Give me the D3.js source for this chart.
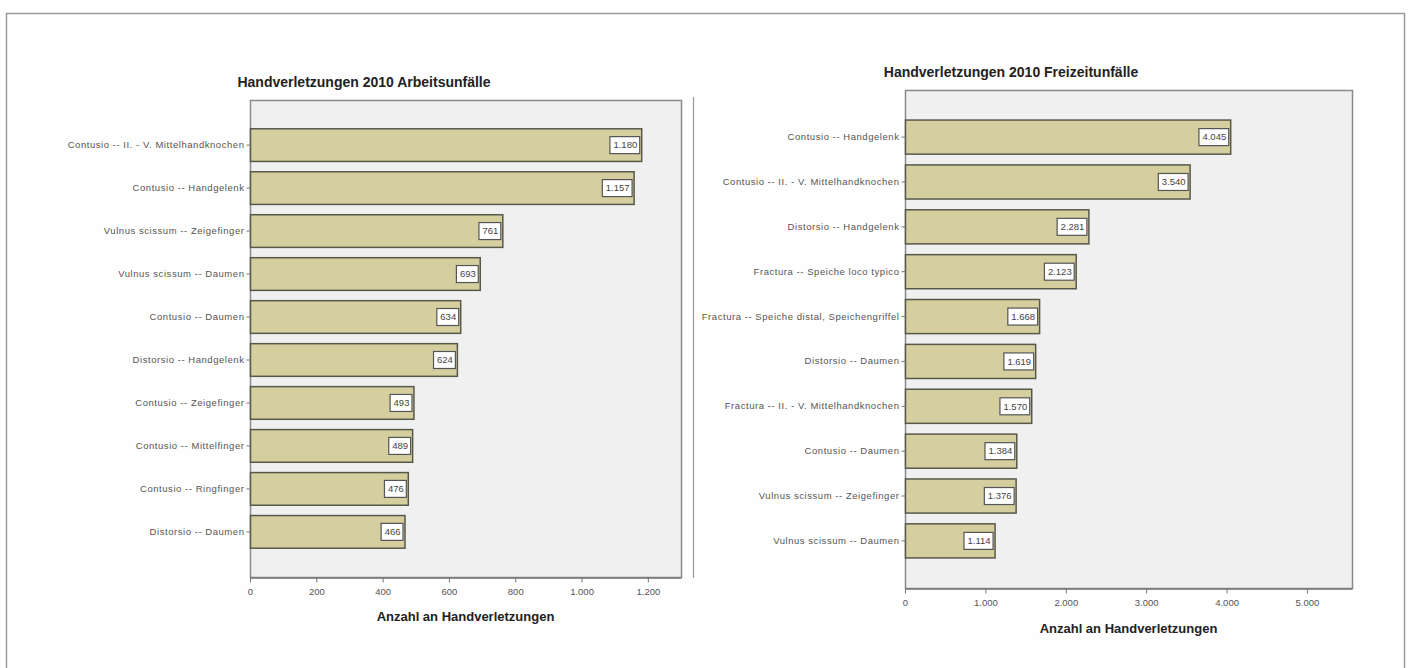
<!DOCTYPE html>
<html>
<head>
<meta charset="utf-8">
<script src="https://cdn.jsdelivr.net/npm/d3@7"></script>
<style>
  body { margin: 0; background: #fff; }
  svg { display: block; font-family: "Liberation Sans", Arial, sans-serif; }
  .c-axis path, .c-axis line { stroke: #777; }
  .c-axis text { fill: #555; }
</style>
</head>
<body>
<div id="chart"></div>
<script>
// Arbeitsunfälle (left chart)
const workCategories = [
  'Contusio -- II. - V. Mittelhandknochen',
  'Contusio -- Handgelenk',
  'Vulnus scissum -- Zeigefinger',
  'Vulnus scissum -- Daumen',
  'Contusio -- Daumen',
  'Distorsio -- Handgelenk',
  'Contusio -- Zeigefinger',
  'Contusio -- Mittelfinger',
  'Contusio -- Ringfinger',
  'Distorsio -- Daumen'
];
const workValues = [1180, 1157, 761, 693, 634, 624, 493, 489, 476, 466];
const workTicks = [0, 200, 400, 600, 800, 1000, 1200];

// Freizeitunfälle (right chart)
const leisureCategories = [
  'Contusio -- Handgelenk',
  'Contusio -- II. - V. Mittelhandknochen',
  'Distorsio -- Handgelenk',
  'Fractura -- Speiche loco typico',
  'Fractura -- Speiche distal, Speichengriffel',
  'Distorsio -- Daumen',
  'Fractura -- II. - V. Mittelhandknochen',
  'Contusio -- Daumen',
  'Vulnus scissum -- Zeigefinger',
  'Vulnus scissum -- Daumen'
];
const leisureValues = [4045, 3540, 2281, 2123, 1668, 1619, 1570, 1384, 1376, 1114];
const leisureTicks = [0, 1000, 2000, 3000, 4000, 5000];

const xTitle = 'Anzahl an Handverletzungen';

// german number format: 1.180
const de = d3.formatLocale({decimal: ',', thousands: '.', grouping: [3], currency: ['', ' €']});
const fmt = de.format(',d');

class HBarChart {
  constructor(svg, opts) {
    this.svg = svg;
    this.opts = opts;
    this.g = svg.append('g');
  }

  render() {
    this.initScales();
    this.drawPlotArea();
    this.drawBars();
    this.drawLabels();
    this.drawAxes();
    this.drawTitles();
  }

  initScales() {
    const o = this.opts;
    this.xScale = d3.scaleLinear().domain([0, o.max]).range([o.left, o.right]);
    this.yScale = d3.scaleBand()
      .domain(o.categories)
      .range([o.top, o.bottom])
      .paddingInner(0.24)
      .paddingOuter(0.67);
  }

  drawPlotArea() {
    const o = this.opts;
    this.g.append('rect')
      .attr('x', o.left + 0.5)
      .attr('y', o.top + 0.5)
      .attr('width', o.right - o.left)
      .attr('height', o.bottom - o.top)
      .attr('fill', '#f0f0f0')
      .attr('stroke', '#8a8a8a')
      .attr('stroke-width', 1.5);
  }

  drawBars() {
    const o = this.opts;
    const data = o.categories.map((c, i) => ({cat: c, value: o.values[i]}));
    this.g.append('g')
      .selectAll('rect')
      .data(data)
      .enter()
      .append('rect')
      .attr('x', this.xScale(0) + 0.5)
      .attr('y', d => this.yScale(d.cat))
      .attr('width', d => this.xScale(d.value) - this.xScale(0))
      .attr('height', this.yScale.bandwidth())
      .attr('fill', '#d5cf9f')
      .attr('stroke', '#58584a')
      .attr('stroke-width', 1.5);
  }

  drawLabels() {
    const o = this.opts;
    const data = o.categories.map((c, i) => ({cat: c, value: o.values[i]}));
    const lbl = this.g.append('g')
      .selectAll('g')
      .data(data)
      .enter()
      .append('g')
      .attr('transform', d => 'translate(' + this.xScale(d.value) + ',' +
        (this.yScale(d.cat) + this.yScale.bandwidth() / 2) + ')');

    lbl.append('text')
      .attr('x', -4)
      .attr('dy', '0.35em')
      .attr('text-anchor', 'end')
      .attr('font-size', 9.5)
      .attr('fill', '#444')
      .text(d => fmt(d.value));

    lbl.each(function() {
      const t = d3.select(this).select('text');
      const w = t.node().getComputedTextLength();
      d3.select(this).insert('rect', 'text')
        .attr('x', -w - 7.5)
        .attr('y', -8.5)
        .attr('width', w + 6)
        .attr('height', 17)
        .attr('fill', '#fff')
        .attr('stroke', '#555')
        .attr('stroke-width', 1.2);
    });
  }

  drawAxes() {
    const o = this.opts;
    const xAxis = d3.axisBottom(this.xScale)
      .tickValues(o.ticks)
      .tickFormat(fmt)
      .tickSizeInner(5)
      .tickSizeOuter(0)
      .tickPadding(6);
    const gx = this.g.append('g')
      .attr('class', 'c-axis')
      .attr('transform', 'translate(0,' + (o.bottom + 0.5) + ')')
      .call(xAxis);
    gx.select('.domain').attr('stroke-width', 1.5);
    gx.selectAll('text').attr('font-size', 9.5);

    const yAxis = d3.axisLeft(this.yScale)
      .tickSize(4)
      .tickPadding(2);
    const gy = this.g.append('g')
      .attr('class', 'c-axis')
      .attr('transform', 'translate(' + (o.left + 0.5) + ',0)')
      .call(yAxis);
    gy.select('.domain').remove();
    gy.selectAll('line').attr('stroke', '#666');
    gy.selectAll('text')
      .attr('font-size', 9.5)
      .attr('letter-spacing', '0.55px')
      .attr('fill', '#555');
  }

  drawTitles() {
    const o = this.opts;
    this.g.append('text')
      .attr('x', o.titleX)
      .attr('y', o.titleY)
      .attr('text-anchor', 'middle')
      .attr('font-size', 14)
      .attr('font-weight', 'bold')
      .attr('fill', '#222')
      .text(o.title);

    this.g.append('text')
      .attr('x', (o.left + o.right) / 2)
      .attr('y', o.axisTitleY)
      .attr('text-anchor', 'middle')
      .attr('font-size', 13)
      .attr('font-weight', 'bold')
      .attr('fill', '#222')
      .text(xTitle);
  }
}

const svg = d3.select('#chart')
  .append('svg')
  .attr('width', 1408)
  .attr('height', 668);

// outer frame + faint image backgrounds
svg.append('rect')
  .attr('x', 6.5).attr('y', 13.5)
  .attr('width', 1398).attr('height', 700)
  .attr('fill', '#fff')
  .attr('stroke', '#9a9a9a')
  .attr('stroke-width', 1.5);
svg.append('rect')
  .attr('x', 28).attr('y', 33).attr('width', 665).attr('height', 617)
  .attr('fill', '#fefefe');
svg.append('rect')
  .attr('x', 700).attr('y', 33).attr('width', 660).attr('height', 617)
  .attr('fill', '#fefefe');
svg.append('line')
  .attr('x1', 693.5).attr('x2', 693.5)
  .attr('y1', 97).attr('y2', 578)
  .attr('stroke', '#9a9a9a')
  .attr('stroke-width', 1.2);

new HBarChart(svg, {
  categories: workCategories,
  values: workValues,
  ticks: workTicks,
  max: 1300,
  left: 250, right: 681, top: 100, bottom: 577,
  title: 'Handverletzungen 2010 Arbeitsunfälle',
  titleX: 364, titleY: 87,
  axisTitleY: 621
}).render();

new HBarChart(svg, {
  categories: leisureCategories,
  values: leisureValues,
  ticks: leisureTicks,
  max: 5560,
  left: 905, right: 1352, top: 90, bottom: 588,
  title: 'Handverletzungen 2010 Freizeitunfälle',
  titleX: 1011, titleY: 77,
  axisTitleY: 633
}).render();
</script>
</body>
</html>
